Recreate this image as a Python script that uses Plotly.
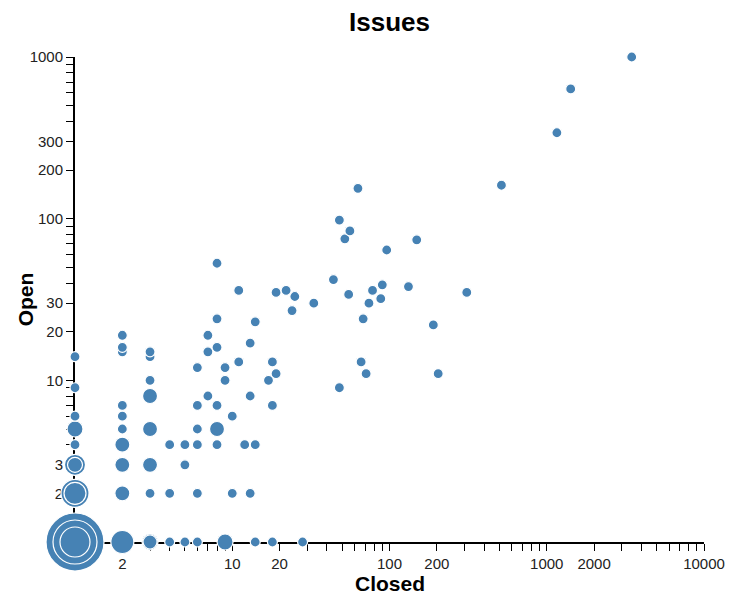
import plotly.graph_objects as go

# Data (closed issues, open issues, marker diameter)
closed = [1, 1, 1, 2, 3, 3, 4, 5, 6, 9, 14, 18, 28,
          1, 1, 1, 1, 1, 1, 1, 1, 1,
          2, 2, 2, 2, 2, 2, 2, 2, 2,
          3, 3, 3, 3, 3, 3, 3,
          4, 4, 5, 5,
          6, 6, 6, 6, 6,
          7, 7, 7,
          8, 8, 8, 8, 8, 8,
          9, 9, 10, 10, 11, 11, 12, 13, 13, 13, 14, 14, 17, 18, 18, 19, 19,
          22, 24, 25, 33, 44, 48, 48, 52, 55, 56, 63, 66, 68, 71, 74, 78, 88, 90, 96,
          132, 149, 190, 204, 310, 515, 1160, 1420, 3470]
opened = [1, 1, 1, 1, 1, 1, 1, 1, 1, 1, 1, 1, 1,
          2, 2, 3, 3, 4, 5, 6, 9, 14,
          2, 3, 4, 5, 6, 7, 15, 16, 19,
          2, 3, 5, 8, 10, 14, 15,
          2, 4, 3, 4,
          2, 4, 5, 7, 12,
          8, 15, 19,
          4, 5, 7, 16, 24, 53,
          10, 12, 2, 6, 13, 36, 4, 2, 8, 17, 4, 23, 10, 7, 13, 11, 35,
          36, 27, 33, 30, 42, 9, 98, 75, 34, 84, 154, 13, 24, 11, 30, 36, 32, 39, 64,
          38, 74, 22, 11, 35, 161, 340, 635, 1000]
sizes = [58, 44, 30, 23, 16, 14, 10, 10, 10, 16, 10, 10, 10,
         28, 22, 21, 15, 10, 16, 10, 10, 10,
         15, 15, 15, 10, 10, 10, 10, 10, 10,
         10, 15, 15, 15, 10, 10, 10,
         10, 10, 10, 10,
         10, 10, 10, 10, 10,
         10, 10, 10,
         10, 15, 10, 10, 10, 10,
         10, 10, 10, 10, 10, 10, 10, 10, 10, 10, 10, 10, 10, 10, 10, 10, 10,
         10, 10, 10, 10, 10, 10, 10, 10, 10, 10, 10, 10, 10, 10, 10, 10, 10, 10, 10,
         10, 10, 10, 10, 10, 10, 10, 10, 10]

x_labels = [2, 10, 20, 100, 200, 1000, 2000, 10000]
y_labels = [2, 3, 10, 20, 30, 100, 200, 300, 1000]

# larger circles drawn first so smaller ones sit on top
order = sorted(range(len(sizes)), key=lambda i: -sizes[i])
xs = [closed[i] for i in order]
ys = [opened[i] for i in order]
ss = [sizes[i] for i in order]


def log_ticks(decades):
    vals = []
    for n in range(decades):
        for k in range(1, 10):
            vals.append(k * 10 ** n)
    vals.append(10 ** decades)
    return vals


xt = log_ticks(4)
yt = log_ticks(3)
xtext = [str(v) if v in x_labels else "" for v in xt]
ytext = [str(v) if v in y_labels else "" for v in yt]

fig = go.Figure(go.Scatter(
    x=xs, y=ys, mode="markers",
    marker=dict(size=ss, color="#4682b4", line=dict(color="white", width=1.2), opacity=1),
    cliponaxis=False, hoverinfo="x+y",
))

font = "Liberation Sans, Arial, Helvetica, sans-serif"
axis_common = dict(
    type="log", showgrid=False, zeroline=False, showline=True, linecolor="black",
    linewidth=2, ticks="outside", ticklen=7, tickwidth=1, tickcolor="black",
    tickmode="array", layer="below traces",
    tickfont=dict(family=font, size=15, color="#222"),
)
# the page body adds 8px margins, so the figure is shrunk to fit the window
fig.update_layout(
    width=729, height=587,
    margin=dict(l=67, r=22, t=49, b=53),
    paper_bgcolor="white", plot_bgcolor="white",
    showlegend=False,
    xaxis=dict(range=[0, 4], tickvals=xt, ticktext=xtext, **axis_common),
    yaxis=dict(range=[0, 3], tickvals=yt, ticktext=ytext, **axis_common),
    annotations=[
        dict(text="<b>Issues</b>", xref="paper", yref="paper", x=0.5, y=1 + 35 / 485,
             showarrow=False, xanchor="center", yanchor="middle",
             font=dict(family=font, size=26, color="black")),
        dict(text="<b>Closed</b>", xref="paper", yref="paper", x=0.5, y=-41 / 485,
             showarrow=False, xanchor="center", yanchor="middle",
             font=dict(family=font, size=21, color="black")),
        dict(text="<b>Open</b>", xref="paper", yref="paper", x=-50 / 640, y=0.5,
             showarrow=False, xanchor="center", yanchor="middle", textangle=-90,
             font=dict(family=font, size=21, color="black")),
    ],
)

fig.write_html("out.html")
